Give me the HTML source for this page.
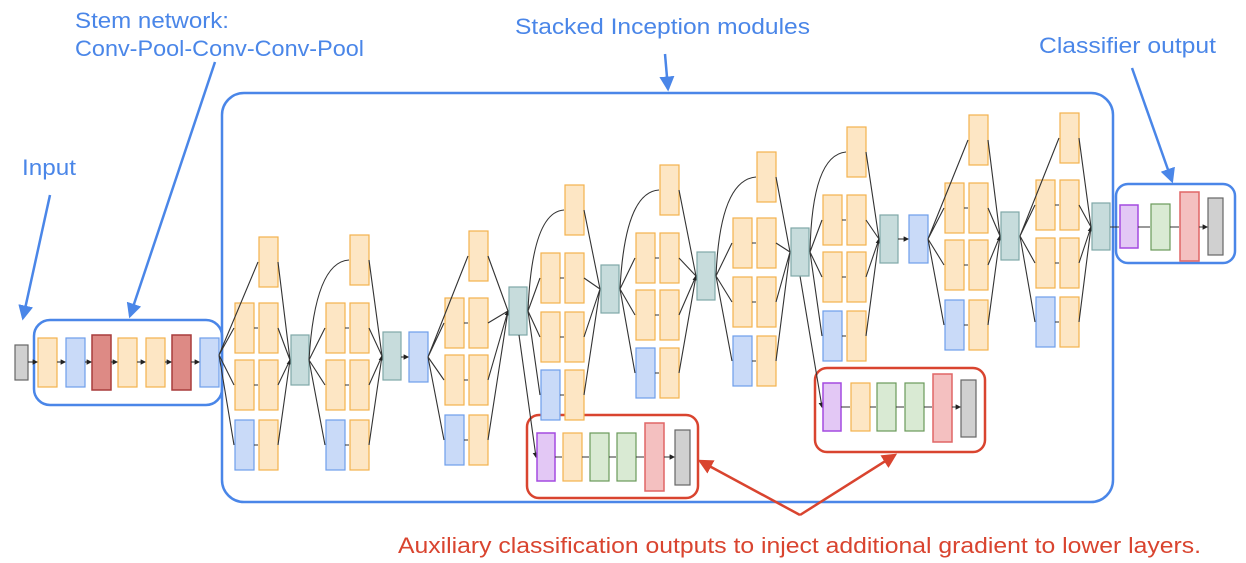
<!DOCTYPE html><html><head><style>body{margin:0;background:#fff}svg{display:block}
.o{fill:#fde6c4;stroke:#f3b24e;stroke-width:1.2}.b{fill:#c9daf8;stroke:#6d9eeb;stroke-width:1.2}
.r{fill:#dd8a85;stroke:#a83c3c;stroke-width:1.5}.t{fill:#c7dcdc;stroke:#7fa8a8;stroke-width:1.2}
.p{fill:#e3c8f5;stroke:#a44ae0;stroke-width:1.5}.g{fill:#d9ead3;stroke:#6a9a5a;stroke-width:1.2}
.k{fill:#d0d0d0;stroke:#666;stroke-width:1.2}.s{fill:#f4c0c0;stroke:#e06666;stroke-width:1.5}
.l{stroke:#333;stroke-width:1.1;fill:none;marker-end:url(#a)}
text{font-family:"Liberation Sans",sans-serif;font-size:22px}</style></head><body>
<svg width="1246" height="563" viewBox="0 0 1246 563">
<defs><marker id="a" markerWidth="5" markerHeight="5" refX="4" refY="2.5" orient="auto"><path d="M0,0L5,2.5L0,5z" fill="#222"/></marker>
<marker id="bb" markerWidth="6" markerHeight="6" refX="5" refY="3" orient="auto"><path d="M0,0L6,3L0,6z" fill="#4a86e8"/></marker>
<marker id="rr" markerWidth="6" markerHeight="6" refX="5" refY="3" orient="auto"><path d="M0,0L6,3L0,6z" fill="#d9442f"/></marker></defs>
<g fill="none" stroke-width="2.5"><rect x="222" y="93" width="891" height="409" rx="22" stroke="#4a86e8"/>
<rect x="34" y="320" width="188" height="85" rx="16" stroke="#4a86e8"/>
<rect x="1116" y="184" width="119" height="79" rx="12" stroke="#4a86e8"/>
<rect x="527" y="415" width="171" height="83" rx="12" stroke="#d9442f"/>
<rect x="815" y="368" width="170" height="84" rx="12" stroke="#d9442f"/>
<g stroke="#4a86e8" marker-end="url(#bb)"><path d="M50,195L23,318"/><path d="M215,62L130,316"/><path d="M665,54L668,89"/><path d="M1132,68L1172,181"/></g>
<g stroke="#d9442f" marker-end="url(#rr)"><path d="M800,515L700,461"/><path d="M800,515L895,455"/></g></g>
<text x="22" y="175" fill="#4a86e8" textLength="54" lengthAdjust="spacingAndGlyphs">Input</text>
<text x="75" y="28" fill="#4a86e8" textLength="154" lengthAdjust="spacingAndGlyphs">Stem network:</text>
<text x="75" y="56" fill="#4a86e8" textLength="289" lengthAdjust="spacingAndGlyphs">Conv-Pool-Conv-Conv-Pool</text>
<text x="515" y="34" fill="#4a86e8" textLength="295" lengthAdjust="spacingAndGlyphs">Stacked Inception modules</text>
<text x="1039" y="53" fill="#4a86e8" textLength="177" lengthAdjust="spacingAndGlyphs">Classifier output</text>
<text x="398" y="553" fill="#d9442f" textLength="803" lengthAdjust="spacingAndGlyphs">Auxiliary classification outputs to inject additional gradient to lower layers.</text>
<rect class="k" x="15" y="345" width="13" height="35"/><rect class="o" x="38" y="338" width="19" height="49"/><rect class="b" x="66" y="338" width="19" height="49"/>
<rect class="r" x="92" y="335" width="19" height="55"/><rect class="o" x="118" y="338" width="19" height="49"/><rect class="o" x="146" y="338" width="19" height="49"/>
<rect class="r" x="172" y="335" width="19" height="55"/><rect class="b" x="200" y="338" width="19" height="49"/>
<g class="l"><path d="M28,362H37"/><path d="M57,362H65"/><path d="M85,362H91"/><path d="M111,362H117"/><path d="M137,362H145"/><path d="M165,362H171"/><path d="M191,362H199"/></g>
<rect class="o" x="259" y="237" width="19" height="50"/><rect class="o" x="235" y="303" width="19" height="50"/><rect class="o" x="259" y="303" width="19" height="50"/><rect class="o" x="235" y="360" width="19" height="50"/><rect class="o" x="259" y="360" width="19" height="50"/><rect class="b" x="235" y="420" width="19" height="50"/><rect class="o" x="259" y="420" width="19" height="50"/>
<path class="l" d="M219,355L258,262M219,355L234,328M219,355L234,385M219,355L234,445M254,328H258M254,385H258M254,445H258M278,262L290,360M278,328L290,360M278,385L290,360M278,445L290,360"/>
<rect class="t" x="291" y="335" width="18" height="50"/>
<rect class="o" x="350" y="235" width="19" height="50"/><rect class="o" x="326" y="303" width="19" height="50"/><rect class="o" x="350" y="303" width="19" height="50"/><rect class="o" x="326" y="360" width="19" height="50"/><rect class="o" x="350" y="360" width="19" height="50"/><rect class="b" x="326" y="420" width="19" height="50"/><rect class="o" x="350" y="420" width="19" height="50"/>
<path class="l" d="M309,360Q315,262 349,260M309,360L325,328M309,360L325,385M309,360L325,445M345,328H349M345,385H349M345,445H349M369,260L382,356M369,328L382,356M369,385L382,356M369,445L382,356"/>
<rect class="t" x="383" y="332" width="18" height="48"/><rect class="b" x="409" y="332" width="19" height="50"/><path class="l" d="M401,357H408"/>
<rect class="o" x="469" y="231" width="19" height="50"/><rect class="o" x="445" y="298" width="19" height="50"/><rect class="o" x="469" y="298" width="19" height="50"/><rect class="o" x="445" y="355" width="19" height="50"/><rect class="o" x="469" y="355" width="19" height="50"/><rect class="b" x="445" y="415" width="19" height="50"/><rect class="o" x="469" y="415" width="19" height="50"/>
<path class="l" d="M428,357L468,256M428,357L444,323M428,357L444,380M428,357L444,440M464,323H468M464,380H468M464,440H468M488,256L508,311M488,323L508,311M488,380L508,311M488,440L508,311"/>
<rect class="t" x="509" y="287" width="18" height="48"/>
<rect class="o" x="565" y="185" width="19" height="50"/><rect class="o" x="541" y="253" width="19" height="50"/><rect class="o" x="565" y="253" width="19" height="50"/><rect class="o" x="541" y="312" width="19" height="50"/><rect class="o" x="565" y="312" width="19" height="50"/><rect class="b" x="541" y="370" width="19" height="50"/><rect class="o" x="565" y="370" width="19" height="50"/>
<path class="l" d="M528,311Q532,212 564,210M528,311L540,278M528,311L540,337M528,311L540,395M560,278H564M560,337H564M560,395H564M584,210L600,289M584,278L600,289M584,337L600,289M584,395L600,289M519,335L536,457"/>
<rect class="t" x="601" y="265" width="18" height="48"/>
<rect class="o" x="660" y="165" width="19" height="50"/><rect class="o" x="636" y="233" width="19" height="50"/><rect class="o" x="660" y="233" width="19" height="50"/><rect class="o" x="636" y="290" width="19" height="50"/><rect class="o" x="660" y="290" width="19" height="50"/><rect class="b" x="636" y="348" width="19" height="50"/><rect class="o" x="660" y="348" width="19" height="50"/>
<path class="l" d="M620,289Q625,192 659,190M620,289L635,258M620,289L635,315M620,289L635,373M655,258H659M655,315H659M655,373H659M679,190L696,276M679,258L696,276M679,315L696,276M679,373L696,276"/>
<rect class="t" x="697" y="252" width="18" height="48"/>
<rect class="o" x="757" y="152" width="19" height="50"/><rect class="o" x="733" y="218" width="19" height="50"/><rect class="o" x="757" y="218" width="19" height="50"/><rect class="o" x="733" y="277" width="19" height="50"/><rect class="o" x="757" y="277" width="19" height="50"/><rect class="b" x="733" y="336" width="19" height="50"/><rect class="o" x="757" y="336" width="19" height="50"/>
<path class="l" d="M716,276Q720,180 756,177M716,276L732,243M716,276L732,302M716,276L732,361M752,243H756M752,302H756M752,361H756M776,177L790,252M776,243L790,252M776,302L790,252M776,361L790,252M800,276L822,407"/>
<rect class="t" x="791" y="228" width="18" height="48"/>
<rect class="o" x="847" y="127" width="19" height="50"/><rect class="o" x="823" y="195" width="19" height="50"/><rect class="o" x="847" y="195" width="19" height="50"/><rect class="o" x="823" y="252" width="19" height="50"/><rect class="o" x="847" y="252" width="19" height="50"/><rect class="b" x="823" y="311" width="19" height="50"/><rect class="o" x="847" y="311" width="19" height="50"/>
<path class="l" d="M810,252Q812,155 846,152M810,252L822,220M810,252L822,277M810,252L822,336M842,220H846M842,277H846M842,336H846M866,152L879,239M866,220L879,239M866,277L879,239M866,336L879,239"/>
<rect class="t" x="880" y="215" width="18" height="48"/><rect class="b" x="909" y="215" width="19" height="48"/><path class="l" d="M898,239H908"/>
<rect class="o" x="969" y="115" width="19" height="50"/><rect class="o" x="945" y="183" width="19" height="50"/><rect class="o" x="969" y="183" width="19" height="50"/><rect class="o" x="945" y="240" width="19" height="50"/><rect class="o" x="969" y="240" width="19" height="50"/><rect class="b" x="945" y="300" width="19" height="50"/><rect class="o" x="969" y="300" width="19" height="50"/>
<path class="l" d="M928,239L968,140M928,239L944,208M928,239L944,265M928,239L944,325M964,208H968M964,265H968M964,325H968M988,140L1000,236M988,208L1000,236M988,265L1000,236M988,325L1000,236"/>
<rect class="t" x="1001" y="212" width="18" height="48"/>
<rect class="o" x="1060" y="113" width="19" height="50"/><rect class="o" x="1036" y="180" width="19" height="50"/><rect class="o" x="1060" y="180" width="19" height="50"/><rect class="o" x="1036" y="238" width="19" height="50"/><rect class="o" x="1060" y="238" width="19" height="50"/><rect class="b" x="1036" y="297" width="19" height="50"/><rect class="o" x="1060" y="297" width="19" height="50"/>
<path class="l" d="M1020,236L1059,138M1020,236L1035,205M1020,236L1035,263M1020,236L1035,322M1055,205H1059M1055,263H1059M1055,322H1059M1079,138L1091,227M1079,205L1091,227M1079,263L1091,227M1079,322L1091,227"/>
<rect class="t" x="1092" y="203" width="18" height="47"/>
<rect class="p" x="1120" y="205" width="18" height="43"/><rect class="g" x="1151" y="204" width="19" height="46"/><rect class="s" x="1180" y="192" width="19" height="69"/><rect class="k" x="1208" y="198" width="15" height="57"/>
<path class="l" d="M1110,227H1119M1138,227H1150M1170,227H1179M1199,227H1207"/>
<rect class="p" x="537" y="433" width="18" height="48"/><rect class="o" x="563" y="433" width="19" height="48"/><rect class="g" x="590" y="433" width="19" height="48"/><rect class="g" x="617" y="433" width="19" height="48"/><rect class="s" x="645" y="423" width="19" height="68"/><rect class="k" x="675" y="430" width="15" height="55"/>
<path class="l" d="M555,457H562M582,457H589M609,457H616M636,457H644M664,457H674"/>
<rect class="p" x="823" y="383" width="18" height="48"/><rect class="o" x="851" y="383" width="19" height="48"/><rect class="g" x="877" y="383" width="19" height="48"/><rect class="g" x="905" y="383" width="19" height="48"/><rect class="s" x="933" y="374" width="19" height="68"/><rect class="k" x="961" y="380" width="15" height="57"/>
<path class="l" d="M841,407H850M870,407H876M896,407H904M924,407H932M952,407H960"/>
</svg></body></html>
